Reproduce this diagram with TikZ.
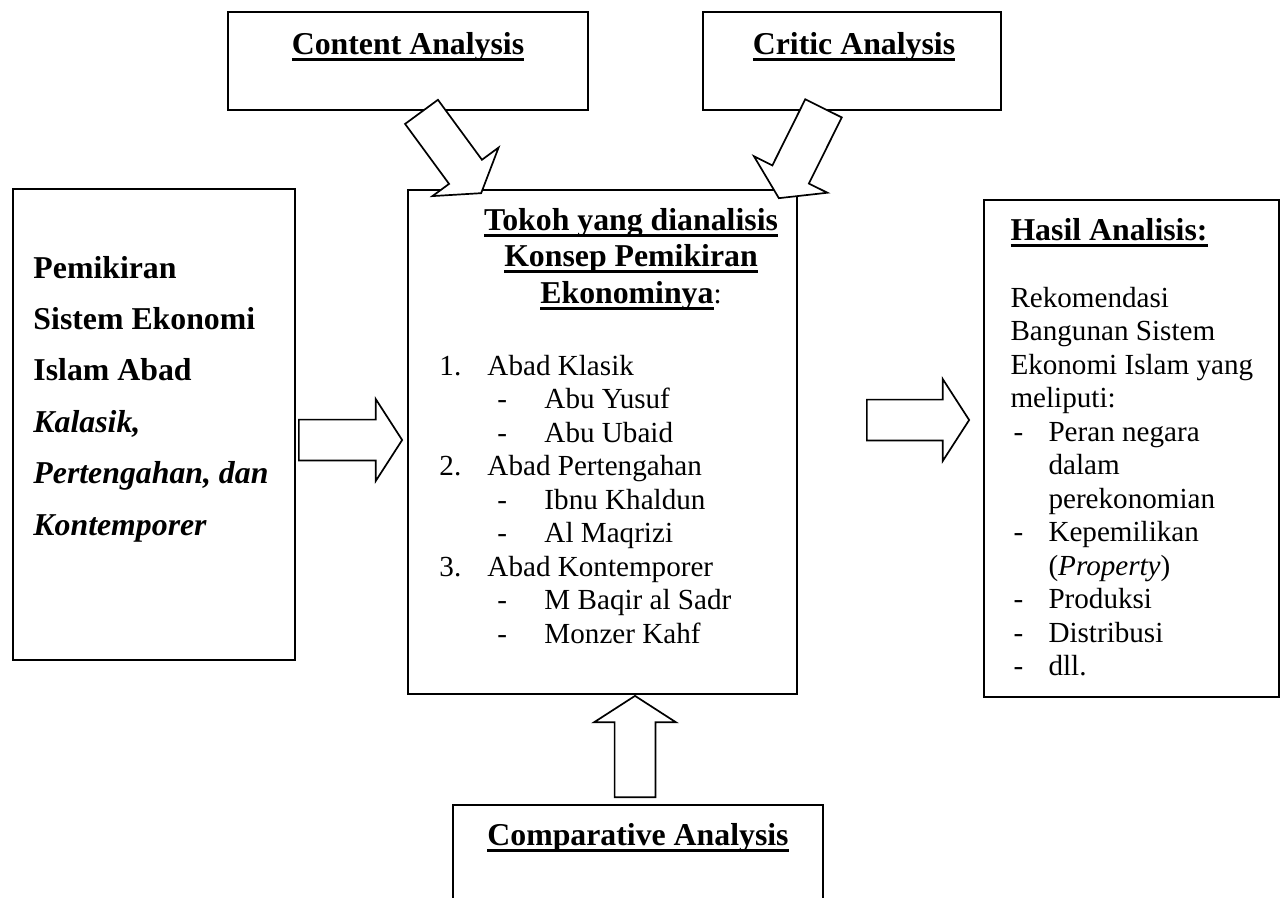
\documentclass[tikz,border=0pt]{standalone}
\usepackage{fontspec}
\setmainfont{Liberation Serif}
\usetikzlibrary{calc,positioning}

\newcommand{\pxu}{0.412pt}
\newcommand{\bfs}{\fontsize{13.1}{15}\selectfont\bfseries}
% thick underline as in the word processor original
\newcommand{\ulbf}[1]{\leavevmode\setbox0\hbox{#1}\rlap{\vrule height -1.5pt depth 2.7pt width \wd0}\box0}
% block arrow from tail #1 to tip #2
\newcommand{\arrowsw}{8.4pt}
\newcommand{\arrowhw}{16.9pt}
\newcommand{\arrowhl}{10.9pt}
\newcommand{\blockarrow}[2]{%
  \path ($(#2)!\arrowhl!(#1)$) coordinate (hb);
  \draw[barrow] ($(#1)!\arrowsw!90:(#2)$) -- ($(hb)!\arrowsw!90:(#2)$)
    -- ($(hb)!\arrowhw!90:(#2)$) -- (#2) -- ($(hb)!\arrowhw!-90:(#2)$)
    -- ($(hb)!\arrowsw!-90:(#2)$) -- ($(#1)!\arrowsw!-90:(#2)$) -- cycle;}

\begin{document}
\begin{tikzpicture}[x=0.412pt, y=-0.412pt,
    box/.style={draw, line width=0.7pt, fill=white, inner sep=0pt},
    txt/.style={inner sep=0pt, font=\fontsize{12}{14}\selectfont},
    barrow/.style={draw, line width=0.7pt, fill=white, line join=miter}
  ]
  \useasboundingbox (0,0) rectangle (1283,897);

  % boxes
  \node[box, minimum width=360*\pxu, minimum height=98*\pxu] (con) at (408,61) {};
  \node[box, minimum width=298*\pxu, minimum height=98*\pxu] (crit) at (852,61) {};
  \node[box, minimum width=282*\pxu, minimum height=471*\pxu] (lft) at (154,424.5) {};
  \node[box, minimum width=389*\pxu, minimum height=504*\pxu] (mid) at (602.5,442) {};
  \node[box, minimum width=295*\pxu, minimum height=497*\pxu] (rgt) at (1131.5,448.5) {};
  \node[box, minimum width=370*\pxu, minimum height=125*\pxu] (comp) at (638,867.5) {};

  % titles
  \node[txt, anchor=base] (con-t) at (408,54) {\bfs\ulbf{Content Analysis}};
  \node[txt, anchor=base] (crit-t) at (854,54) {\bfs\ulbf{Critic Analysis}};
  \node[txt, anchor=base] (comp-t) at (638,845) {\bfs\ulbf{Comparative Analysis}};

  % left box
  \foreach \t [count=\i from 0] in {Pemikiran, Sistem Ekonomi, Islam Abad,
      {\itshape Kalasik,}, {\itshape Pertengahan, dan}, {\itshape Kontemporer}}
    \node[txt, font=\bfs, anchor=base west]
      (lft-\i) at (33,{278+51.4*\i}) {\t};

  % middle box
  \node[txt, anchor=base] (mid-t1) at (631,230) {\bfs\ulbf{Tokoh yang dianalisis}};
  \node[txt, anchor=base] (mid-t2) at (631,266) {\bfs\ulbf{Konsep Pemikiran}};
  \node[txt, anchor=base] (mid-t3) at (631,303) {\ulbf{\bfs Ekonominya}:};
  \foreach \mk/\mx/\xx/\t [count=\i from 0] in {1./439/487/Abad Klasik,
      -/497/544/Abu Yusuf, -/497/544/Abu Ubaid, 2./439/487/Abad Pertengahan,
      -/497/544/Ibnu Khaldun, -/497/544/Al Maqrizi, 3./439/487/Abad Kontemporer,
      -/497/544/M Baqir al Sadr, -/497/544/Monzer Kahf}
  {
    \node[txt, anchor=base west] (mid-m\i) at (\mx,{375+33.5*\i}) {\mk};
    \node[txt, anchor=base west] (mid-\i) at (\xx,{375+33.5*\i}) {\t};
  }

  % right box
  \node[txt, anchor=base west] (rgt-t) at (1010,240) {\bfs\ulbf{Hasil Analisis:}};
  \foreach \xx/\t [count=\i from 0] in {1010/Rekomendasi, 1010/Bangunan Sistem,
      1010/Ekonomi Islam yang, 1010/meliputi:, 1048/Peran negara, 1048/dalam,
      1048/perekonomian, 1048/Kepemilikan, 1048/(\textit{Property}),
      1048/Produksi, 1048/Distribusi, 1048/dll.}
    \node[txt, anchor=base west] (rgt-\i) at (\xx,{307+33.5*\i}) {\t};
  \foreach \i in {4,7,9,10,11}
    \node[txt, anchor=base west] (rgt-m\i) at (1013,{307+33.5*\i}) {-};

  % block arrows
  \coordinate (con-a) at ([shift={(13.5,1)}]con.south);
  \coordinate (con-b) at ([shift={(74,4)}]mid.north west);
  \coordinate (crit-a) at ([shift={(-28.5,-2.5)}]crit.south);
  \coordinate (crit-b) at ([shift={(-19,9)}]mid.north east);
  \coordinate (lft-a) at ([shift={(3,15.5)}]lft.east);
  \coordinate (lft-b) at ([shift={(-5,-2)}]mid.west);
  \coordinate (rgt-a) at ([shift={(69,-22)}]mid.east);
  \coordinate (rgt-b) at ([shift={(-14,-28.5)}]rgt.west);
  \coordinate (comp-a) at ([shift={(-3,-7)}]comp.north);
  \coordinate (comp-b) at ([shift={(32.5,1)}]mid.south);
  \blockarrow{con-a}{con-b}
  \blockarrow{crit-a}{crit-b}
  \blockarrow{lft-a}{lft-b}
  \blockarrow{rgt-a}{rgt-b}
  \blockarrow{comp-a}{comp-b}
\end{tikzpicture}
\end{document}
